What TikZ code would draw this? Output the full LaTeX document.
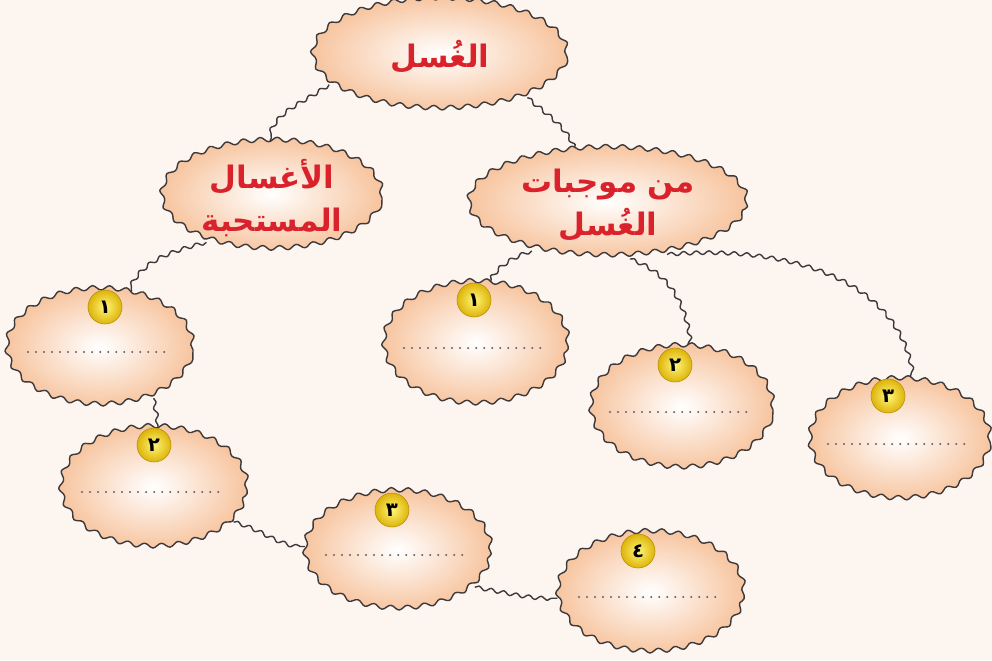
\documentclass[tikz,border=0pt]{standalone}
\usepackage{fontspec}
\newfontfamily\arabicfont[Script=Arabic]{DejaVu Sans}
\TeXXeTstate=1
\usetikzlibrary{shapes.geometric,decorations.pathmorphing,calc}
\definecolor{bgc}{RGB}{252,245,240}
\definecolor{peach}{RGB}{247,196,158}
\definecolor{titlered}{RGB}{218,34,44}
\definecolor{edge}{RGB}{62,58,60}
\definecolor{goldA}{RGB}{255,246,120}
\definecolor{goldB}{RGB}{222,180,10}
\definecolor{dotc}{RGB}{105,95,105}
\pgfdeclarelayer{bg}\pgfdeclarelayer{conn}\pgfsetlayers{bg,conn,main}
\tikzset{
 bubble/.style={ellipse, inner sep=0pt, draw=edge, line width=1pt, line join=round, inner color=white, outer color=peach,
   decorate, decoration={snake, amplitude=1.6pt, segment length=12pt},
   font=\arabicfont\bfseries\fontsize{22}{30}\selectfont, text=titlered, align=center},
 wire/.style={draw=edge, line width=1pt, line join=round, decorate, decoration={snake, amplitude=1.3pt, segment length=9pt}},
 badge/.style={circle, minimum size=0.85cm, inner sep=0pt, draw=goldB!80!black, line width=0.4pt,
   inner color=goldA, outer color=goldB, font=\arabicfont\bfseries\fontsize{14}{14}\selectfont},
 blank/.style={draw=dotc, line width=1.6pt, line cap=round, dash pattern=on 0pt off 5.7pt}
}
\begin{document}
\begin{tikzpicture}[x=0.025cm,y=-0.025cm]
\begin{pgfonlayer}{bg}
\fill[bgc] (0,0) rectangle (992,660);
\end{pgfonlayer}
\useasboundingbox (0,0) rectangle (992,660);
% main nodes
\node[bubble, minimum width=6.35cm, minimum height=2.75cm] (top) at (440,57) {\beginR الغُسل\endR};
\node[bubble, minimum width=5.5cm, minimum height=2.6cm] (lm) at (272,198) {\beginR الأغسال\endR\\\beginR المستحبة\endR};
\node[bubble, minimum width=6.95cm, minimum height=2.7cm] (rm) at (608,205) {\beginR من موجبات\endR\\\beginR الغُسل\endR};
\node[bubble, minimum width=4.65cm, minimum height=2.9cm] (L1) at (100,350) {};
\node[bubble, minimum width=4.65cm, minimum height=3.0cm] (L2) at (154,490) {};
\node[bubble, minimum width=4.65cm, minimum height=2.95cm] (L3) at (398,553) {};
\node[bubble, minimum width=4.65cm, minimum height=3.0cm] (L4) at (651,595) {};
\node[bubble, minimum width=4.6cm, minimum height=3.05cm] (R1) at (476,346) {};
\node[bubble, minimum width=4.55cm, minimum height=3.05cm] (R2) at (682,410) {};
\node[bubble, minimum width=4.5cm, minimum height=3.0cm] (R3) at (900,442) {};
% connectors
\begin{pgfonlayer}{conn}
\draw[wire] (top.194) to[out=215,in=85] (lm.92);
\draw[wire] (top.-25) to[out=-40,in=110] (rm.122);
\draw[wire] (lm.214) to[out=195,in=70] (L1.62);
\draw[wire] (rm.211) to[out=200,in=60] (R1.78);
\draw[wire] (rm.292) to[out=-20,in=95] (R2.84);
\draw[wire] (rm.320) to[out=5,in=95] (R3.80);
\draw[wire] (L1.318) to[out=-80,in=95] (L2.86);
\draw[wire] (L2.338) to[out=-15,in=180] (L3.176);
\draw[wire] (L3.336) to[out=-10,in=180] (L4.182);
\end{pgfonlayer}
% dotted blanks
\foreach \n in {L1,L2,L3,L4,R1,R2,R3}{
  \draw[blank] ($(\n.center)+(-72,2)$) -- ($(\n.center)+(70,2)$);
}
% badges
\node[badge] (b1) at (105,307) {\arabicfont ١};
\node[badge] (b2) at (154,445) {\arabicfont ٢};
\node[badge] (b3) at (392,510) {\arabicfont ٣};
\node[badge] (b4) at (638,551) {\arabicfont ٤};
\node[badge] (c1) at (474,300) {\arabicfont ١};
\node[badge] (c2) at (675,365) {\arabicfont ٢};
\node[badge] (c3) at (888,396) {\arabicfont ٣};
\end{tikzpicture}
\end{document}
